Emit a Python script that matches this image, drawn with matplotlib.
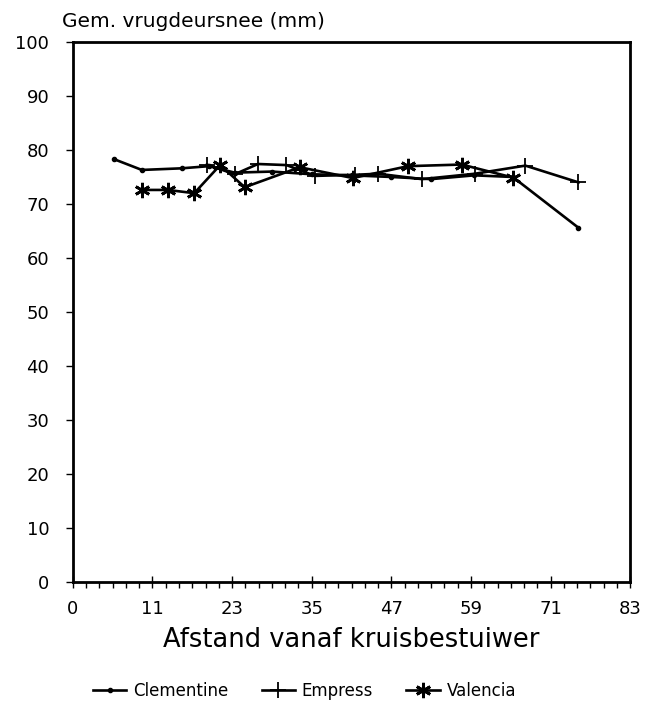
import matplotlib
matplotlib.use("Agg")
import matplotlib.pyplot as plt
from matplotlib.ticker import MultipleLocator, FixedLocator

plt.rcParams['font.family'] = ['DejaVu Sans']

# Data (x in axis positions 0-84; tick labels below)
clem_x = [6.2, 10.4, 16.4, 20.5, 24.4, 30.0, 36.0, 42.0, 48.0, 54.0, 60.5, 66.3, 76.2]
clem_y = [78.3, 76.3, 76.6, 77.0, 75.8, 76.0, 75.5, 75.3, 75.0, 74.6, 75.3, 75.0, 65.6]

emp_x = [20.2, 24.4, 27.9, 32.2, 36.5, 42.5, 46.0, 52.6, 60.6, 68.2, 76.2]
emp_y = [77.3, 75.5, 77.4, 77.2, 75.2, 75.4, 75.6, 74.6, 75.6, 77.1, 74.0]

val_x = [10.4, 14.3, 18.3, 22.2, 25.9, 34.2, 42.2, 50.5, 58.6, 66.3]
val_y = [72.6, 72.6, 72.0, 77.2, 73.1, 76.8, 74.8, 77.0, 77.3, 74.9]

xtick_pos = [0, 12, 24, 36, 48, 60, 72, 84]
xtick_labels = ['0', '11', '23', '35', '47', '59', '71', '83']
ytick_pos = list(range(0, 101, 10))

fig = plt.figure(figsize=(6.62, 7.10), dpi=100)
ax = fig.add_axes([0.110, 0.180, 0.842, 0.761])

ax.plot(clem_x, clem_y, color='black', lw=1.9, marker='o', ms=3, label='Clementine')
ax.plot(emp_x, emp_y, color='black', lw=1.9, marker='+', ms=11, mew=1.3, label='Empress')
ax.plot(val_x, val_y, color='black', lw=1.9, marker=(6, 2, 0), ms=11, mew=2.0, label='Valencia')

ax.set_xlim(0, 84)
ax.set_ylim(0, 100)
ax.xaxis.set_major_locator(FixedLocator(xtick_pos))
ax.set_xticklabels(xtick_labels)
ax.xaxis.set_minor_locator(MultipleLocator(2))
ax.yaxis.set_major_locator(FixedLocator(ytick_pos))

for s in ax.spines.values():
    s.set_linewidth(2.0)

ax.tick_params(axis='x', which='major', direction='inout', length=8, width=1.0,
               labelsize=13, pad=9)
ax.tick_params(axis='x', which='minor', direction='out', length=4, width=1.0)
ax.tick_params(axis='y', which='major', direction='out', length=5, width=1.0,
               labelsize=13, pad=12)

ax.set_xlabel('Afstand vanaf kruisbestuiwer', fontsize=18.5, labelpad=6)
fig.text(0.094, 0.957, 'Gem. vrugdeursnee (mm)', fontsize=14.5, ha='left', va='bottom')

fig.legend(loc='lower center', bbox_to_anchor=(0.46, -0.007), ncol=3, frameon=False,
           fontsize=12, handlelength=2.0, columnspacing=2.0, handletextpad=0.4)

fig.savefig('out.png', dpi=100, facecolor='white')
